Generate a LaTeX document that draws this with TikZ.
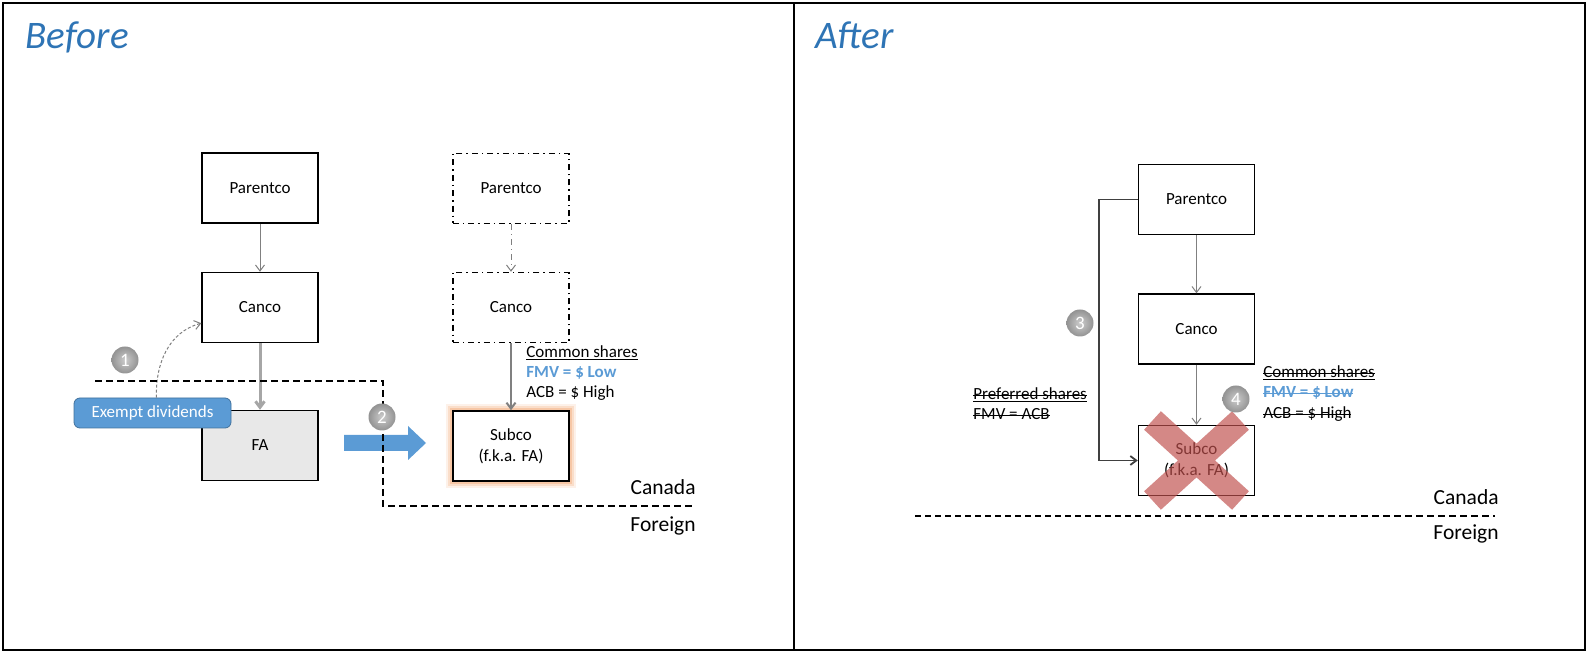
\documentclass[tikz,border=0pt]{standalone}
\usepackage{fontspec}
\setmainfont{Carlito}
\usepackage{xcolor}
\usetikzlibrary{arrows.meta,positioning,calc,backgrounds}
\definecolor{titleblue}{RGB}{46,116,181}
\definecolor{divblue}{RGB}{91,155,213}
\definecolor{divedge}{RGB}{65,113,156}
\definecolor{lowblue}{RGB}{91,155,213}
\definecolor{glow}{RGB}{244,177,131}
\definecolor{crossred}{RGB}{192,80,77}
\newlength{\strkw}
\newcommand{\strk}[1]{\settowidth{\strkw}{#1}\rlap{\rule[0.25em]{\strkw}{0.5pt}}#1}
\newcommand{\ulin}[1]{\settowidth{\strkw}{#1}\rlap{\rule[-0.14em]{\strkw}{0.5pt}}#1}

\begin{document}
\begin{tikzpicture}[x=0.5pt, y=-0.5pt,
  entity/.style={draw, line width=0.7pt, fill=white, minimum width=58pt, minimum height=35pt, inner sep=1pt, align=center, font=\fontsize{8.5}{10.5}\selectfont},
  ghost/.style={entity, dash dot},
  own/.style={draw=gray, line width=0.5pt, -{Straight Barb[length=3pt,width=4.5pt]}},
  numball/.style={circle, inner color=gray!40, outer color=gray!85, text=white, minimum size=13.5pt, inner sep=0pt, font=\fontsize{9.5}{11}\selectfont},
  sharenote/.style={anchor=base west, inner sep=0pt, font=\fontsize{8.5}{10}\selectfont},
  regionlabel/.style={anchor=base east, inner sep=0pt, font=\fontsize{10.75}{12}\selectfont},
  borderline/.style={line width=1.2pt, dash pattern=on 3.5pt off 2pt},
  paneltitle/.style={anchor=base west, inner sep=0pt, text=titleblue, font=\fontsize{19.5}{22}\selectfont\itshape}]
  \useasboundingbox (0,0) rectangle (1590,656);
  % Frame
  \draw[line width=1.2pt] (3,3) rectangle (1585,650);
  \draw[line width=1.2pt] (794,3) -- (794,650);
  \node[paneltitle] (before) at (25,49) {Before};
  \node[paneltitle] (after) at (815,49) {After};

  % Before: current structure
  \node[entity] (pc) at (260,188) {Parentco};
  \node[entity] (can) at (260,307.5) {Canco};
  \node[entity, fill=gray!18] (fa) at (260,445.5) {FA};
  \draw[own] (pc) -- (can);
  \draw[own, draw=gray!70, line width=1.5pt] (can) -- (fa);
  \node[draw=divedge, fill=divblue, rounded corners=3pt, minimum width=78.5pt, minimum height=15pt, inner sep=0pt, text=white, font=\fontsize{8.5}{10}\selectfont] (exempt) at (152.5,413) {Exempt dividends};
  \coordinate (exempttop) at ($(exempt.north)+(4,0)$);
  \draw[own, dash pattern=on 1.5pt off 1pt] (exempttop) to[out=92, in=195] (can);
  \node[numball] (s1) at (125,360) {1};
  % Migration arrow
  \fill[divblue] (344,435) -- (408,435) -- (408,426) -- (426,443) -- (408,460) -- (408,451) -- (344,451) -- cycle;

  % Before: after continuance
  \node[ghost] (pcg) at (511,188.5) {Parentco};
  \node[ghost] (cang) at (511,307.5) {Canco};
  \node[entity] (sub) at (511,446) {Subco\\(f.k.a. FA)};
  \begin{scope}[on background layer]
    \draw[glow, line width=6pt, opacity=0.18] (sub.north west) rectangle (sub.south east);
    \draw[glow, line width=4pt, opacity=0.3] (sub.north west) rectangle (sub.south east);
    \draw[glow, line width=2pt, opacity=0.5] (sub.north west) rectangle (sub.south east);
  \end{scope}
  \draw[own, dash dot] (pcg) -- (cang);
  \draw[own, line width=1pt] (cang) -- (sub);
  \node[sharenote] (cs1) at (526,358) {\ulin{Common shares}};
  \node[sharenote, text=lowblue] (cs2) at (526,378) {\bfseries FMV = \$ Low};
  \node[sharenote] (cs3) at (526,398) {ACB = \$ High};

  % Canada / Foreign border
  \draw[borderline] (95,381) -- (383,381) -- (383,506) -- (693,506);
  \node[numball] (s2) at (382,417) {2};
  \node[regionlabel] (canL) at (696,495) {Canada};
  \node[regionlabel] (forL) at (696,532) {Foreign};

  % After
  \node[entity] (pc2) at (1196.5,199.5) {Parentco};
  \node[entity] (can2) at (1196.5,329) {Canco};
  \node[entity] (sub2) at (1196.5,460.5) {Subco\\(f.k.a. FA)};
  \draw[own] (pc2) -- (can2);
  \draw[own] (can2) -- (sub2);
  \draw[line width=0.9pt, draw=gray!50!black, -{Straight Barb[length=3pt,width=4.5pt]}] (pc2.west) -- ++(-39,0) |- (sub2.west);
  \node[numball] (s3) at (1080,323) {3};
  \node[sharenote] (ps1) at (973,400) {\ulin{\strk{Preferred shares}}};
  \node[sharenote] (ps2) at (973,420) {\strk{FMV = ACB}};
  \node[sharenote] (cs4) at (1263,378) {\ulin{\strk{Common shares}}};
  \node[sharenote, text=lowblue] (cs5) at (1263,398) {\bfseries\strk{FMV = \$ Low}};
  \node[sharenote] (cs6) at (1263,419) {\strk{ACB = \$ High}};
  % wind-up
  \draw[crossred, opacity=0.68, line width=12.5pt] ($(sub2.center)+(-44,-40)$) -- ($(sub2.center)+(44,40)$) ($(sub2.center)+(44,-40)$) -- ($(sub2.center)+(-44,40)$);
  \node[numball] (s4) at (1236,399) {4};
  \draw[line width=0.8pt, dash pattern=on 3pt off 2pt] (915,516) -- (1207,516);
  \draw[borderline] (1207,516) -- (1495,516);
  \node[regionlabel] (canR) at (1499,505) {Canada};
  \node[regionlabel] (forR) at (1499,540) {Foreign};
\end{tikzpicture}
\end{document}
